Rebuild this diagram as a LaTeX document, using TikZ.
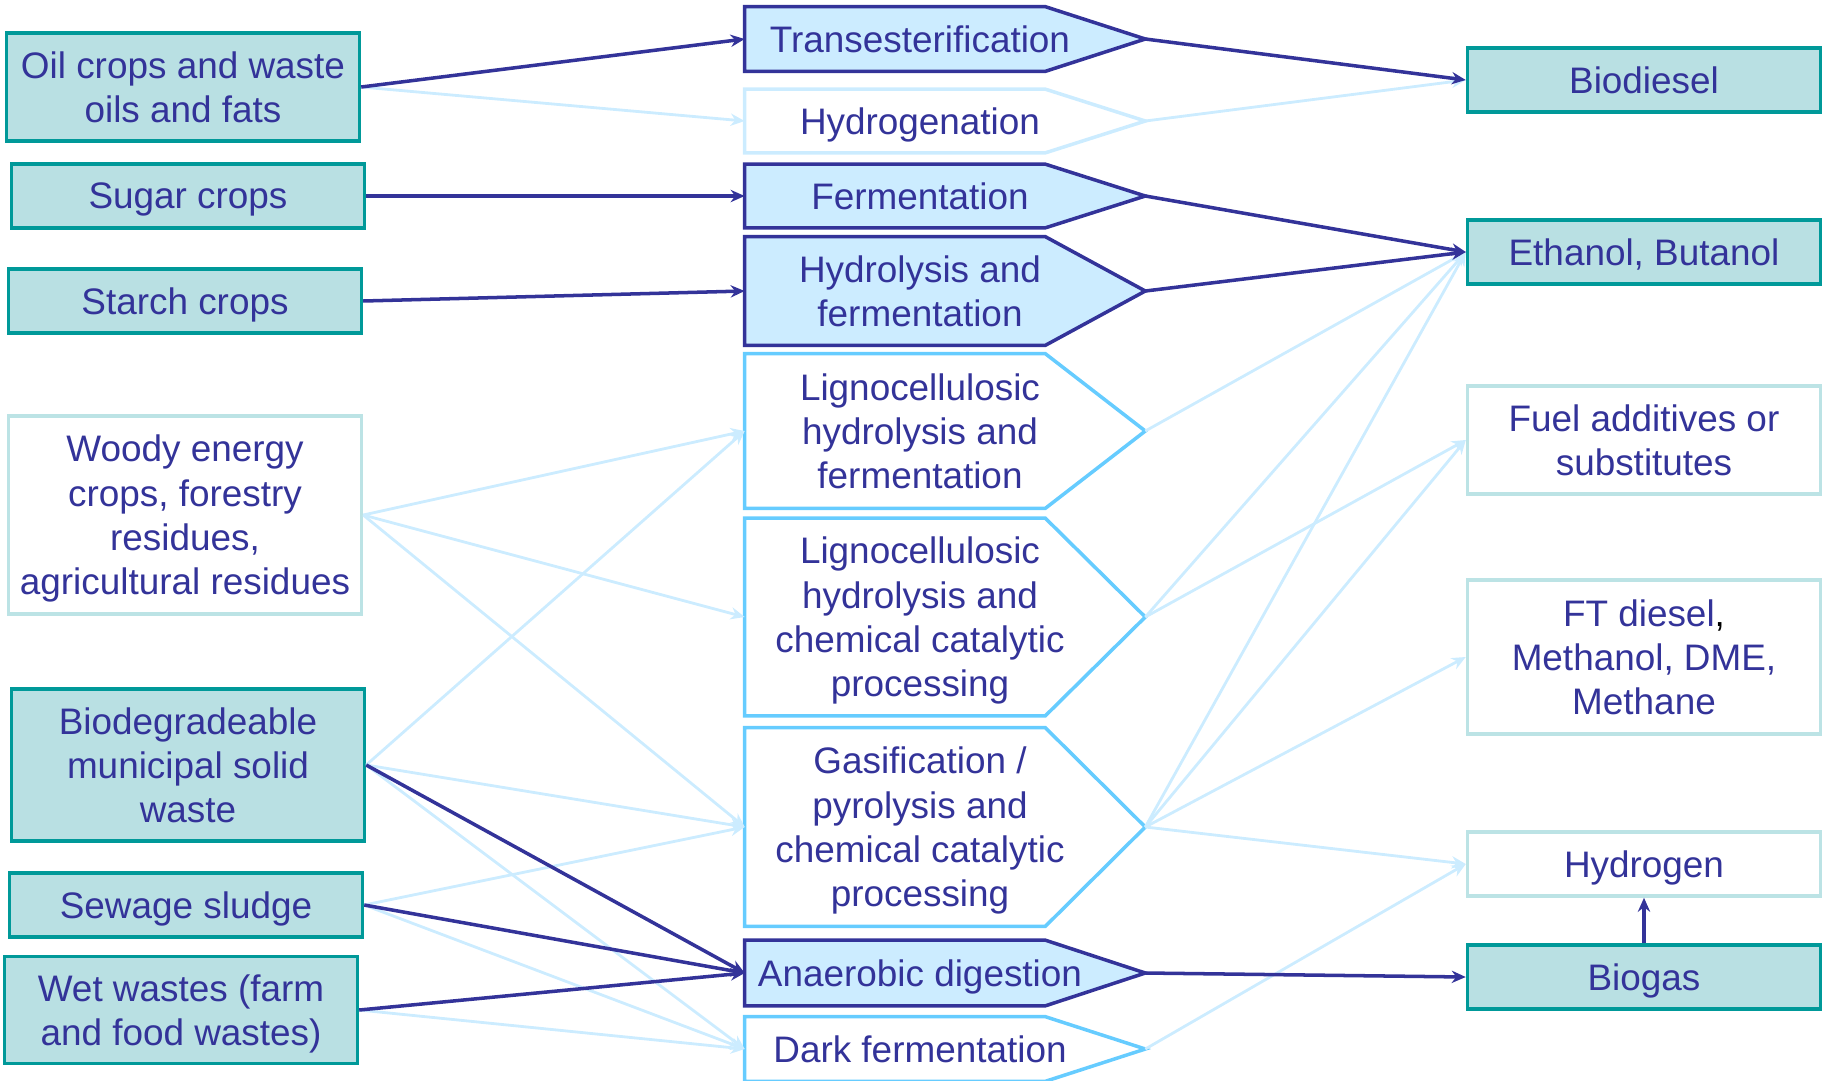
\documentclass[tikz,border=0pt]{standalone}
\usepackage{fontspec}
\setmainfont{Liberation Sans}
\usetikzlibrary{arrows.meta,backgrounds}
\definecolor{navy}{HTML}{333399}
\definecolor{tealline}{HTML}{009999}
\definecolor{tealfill}{HTML}{B9E0E3}
\definecolor{paleteal}{HTML}{BCE3E5}
\definecolor{skyfill}{HTML}{CCECFF}
\definecolor{skyline}{HTML}{66CCFF}
\definecolor{paleline}{HTML}{CCECFF}
\begin{document}
\begin{tikzpicture}[x=0.02cm,y=-0.02cm]
		\tikzstyle{every node}+=[inner sep=0pt, text depth=0pt, text=navy, align=center, font=\fontsize{21}{25.2}\selectfont]
		\tikzstyle{feed}=[draw=tealline, fill=tealfill, line width=2pt, minimum width=7.06cm]
		\tikzstyle{feedpale}=[draw=paleteal, fill=white, line width=2pt, minimum width=7.06cm]
		\tikzstyle{proc}=[minimum width=7cm]
		\tikzstyle{procdark}=[draw=navy, fill=skyfill, line width=2pt]
		\tikzstyle{procsky}=[draw=skyline, fill=white, line width=2pt]
		\tikzstyle{procpale}=[draw=paleline, fill=white, line width=2pt]
		\tikzstyle{darkarrow}=[navy, line width=2pt, -{Stealth[length=8pt,width=7pt]}]
		\tikzstyle{palearrow}=[paleline, line width=1.6pt, -{Stealth[length=8pt,width=7pt]}]
		\useasboundingbox (0,0) rectangle (1827,1080);
		\node [feed, minimum height=2.16cm] (oil) at (183,87) {Oil crops and waste\\oils and fats};
		\node [feed, minimum height=1.28cm] (sugar) at (188,196) {Sugar crops};
		\node [feed, minimum height=1.28cm] (starch) at (185,301) {Starch crops};
		\node [feedpale, minimum height=3.96cm] (woody) at (185,515) {Woody energy\\crops, forestry\\residues,\\agricultural residues};
		\node [feed, minimum height=3.04cm] (msw) at (188,765) {Biodegradeable\\municipal solid\\waste};
		\node [feed, minimum height=1.28cm] (sludge) at (186,905) {Sewage sludge};
		\node [feed, minimum height=2.14cm] (wet) at (181,1010) {Wet wastes (farm\\and food wastes)};
		\node [proc, minimum height=1.28cm] (trans) at (920,39) {Transesterification};
		\node [proc, minimum height=1.26cm] (hydrog) at (920,121) {Hydrogenation};
		\node [proc, minimum height=1.26cm] (ferm) at (920,196) {Fermentation};
		\node [proc, minimum height=2.16cm] (hydrol) at (920,291) {Hydrolysis and\\fermentation};
		\node [proc, minimum height=3.08cm] (lignoferm) at (920,431) {Lignocellulosic\\hydrolysis and\\fermentation};
		\node [proc, minimum height=3.94cm] (lignochem) at (920,617) {Lignocellulosic\\hydrolysis and\\chemical catalytic\\processing};
		\node [proc, minimum height=3.96cm] (gasif) at (920,827) {Gasification /\\pyrolysis and\\chemical catalytic\\processing};
		\node [proc, minimum height=1.3cm] (anaer) at (920,973) {Anaerobic digestion};
		\node [proc, minimum height=1.28cm] (darkferm) at (920,1049) {Dark fermentation};
		\node [feed, minimum height=1.28cm] (biodiesel) at (1644,80) {Biodiesel};
		\node [feed, minimum height=1.28cm] (ethanol) at (1644,252) {Ethanol, Butanol};
		\node [feedpale, minimum height=2.16cm] (additives) at (1644,440) {Fuel additives or\\substitutes};
		\node [feedpale, minimum height=3.08cm] (ftdiesel) at (1644,657) {FT diesel{\color{black},}\\Methanol, DME,\\Methane};
		\node [feedpale, minimum height=1.28cm] (hydrogen) at (1644,864) {Hydrogen};
		\node [feed, minimum height=1.28cm] (biogas) at (1644,977) {Biogas};
		\begin{pgfonlayer}{background}
			\foreach \n/\s in {trans/procdark, hydrog/procpale, ferm/procdark, hydrol/procdark, lignoferm/procsky, lignochem/procsky, gasif/procsky, anaer/procdark, darkferm/procsky}
				\draw [\s] (\n.north west) -- ([xshift=-1cm]\n.north east) -- ([xshift=1cm]\n.east) -- ([xshift=-1cm]\n.south east) -- (\n.south west) -- cycle;
		\end{pgfonlayer}
		\foreach \n in {trans, hydrog, ferm, hydrol, lignoferm, lignochem, gasif, anaer, darkferm}
			\coordinate (\n-tip) at ([xshift=1cm]\n.east);
		\foreach \a/\b in {oil/hydrog, woody/lignoferm, woody/lignochem, woody/gasif, msw/lignoferm, msw/gasif, msw/darkferm, sludge/gasif, sludge/darkferm, wet/darkferm}
			\draw [palearrow] (\a.east) -- (\b.west);
		\foreach \a/\b in {hydrog/biodiesel, lignoferm/ethanol, lignochem/ethanol, lignochem/additives, gasif/ethanol, gasif/additives, gasif/ftdiesel, gasif/hydrogen, darkferm/hydrogen}
			\draw [palearrow] (\a-tip) -- (\b.west);
		\foreach \a/\b in {oil/trans, sugar/ferm, starch/hydrol, msw/anaer, sludge/anaer, wet/anaer}
			\draw [darkarrow] (\a.east) -- (\b.west);
		\foreach \a/\b in {trans/biodiesel, ferm/ethanol, hydrol/ethanol, anaer/biogas}
			\draw [darkarrow] (\a-tip) -- (\b.west);
		\draw [darkarrow] (biogas.north) -- (hydrogen.south);
	\end{tikzpicture}
\end{document}
